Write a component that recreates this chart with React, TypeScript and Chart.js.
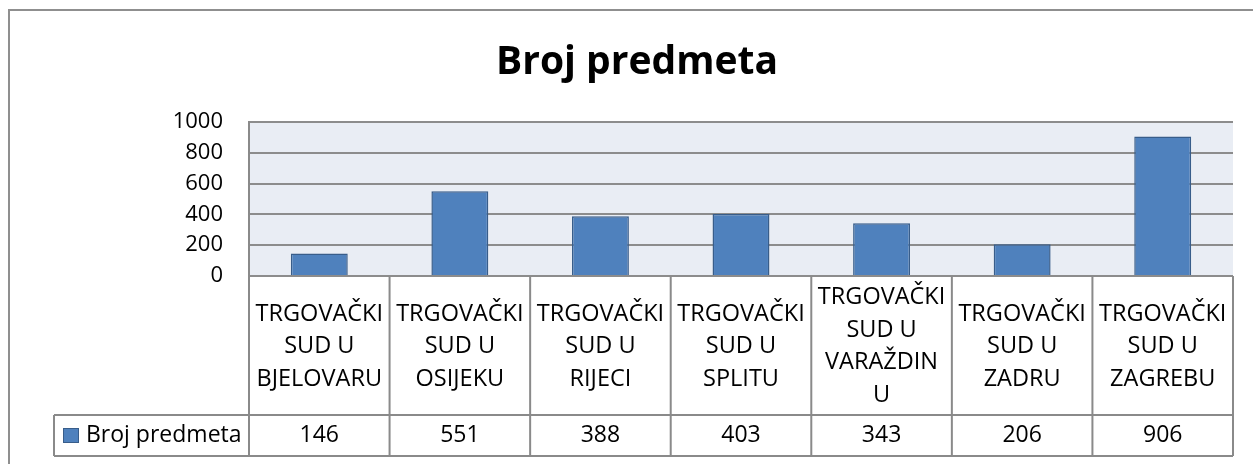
import { useEffect, useRef } from "react";
import { Chart, registerables } from "chart.js";

Chart.register(...registerables);

const chartTitle = "Broj predmeta";
const seriesName = "Broj predmeta";
const categories: string[][] = [
  ["TRGOVAČKI", "SUD U", "BJELOVARU"],
  ["TRGOVAČKI", "SUD U", "OSIJEKU"],
  ["TRGOVAČKI", "SUD U", "RIJECI"],
  ["TRGOVAČKI", "SUD U", "SPLITU"],
  ["TRGOVAČKI", "SUD U", "VARAŽDIN", "U"],
  ["TRGOVAČKI", "SUD U", "ZADRU"],
  ["TRGOVAČKI", "SUD U", "ZAGREBU"],
];
const values = [146, 551, 388, 403, 343, 206, 906];
const yMin = 0;
const yMax = 1000;
const yStep = 200;

const FONT = "'Open Sans', 'Noto Sans', sans-serif";
const LINE = "#8a8a8a";

const excelPlugin = {
  id: "excelLook",
  beforeDraw(chart: any) {
    const { ctx, chartArea: a } = chart;
    ctx.save();
    ctx.fillStyle = "#ffffff";
    ctx.fillRect(0, 0, chart.width, chart.height);
    ctx.fillStyle = "#E9EDF4";
    ctx.fillRect(a.left, a.top, a.right - a.left, a.bottom - a.top);
    ctx.restore();
  },
  afterDraw(chart: any) {
    const { ctx, chartArea: a } = chart;
    const xs = chart.scales.x;
    const n = categories.length;
    const w = (a.right - a.left) / n;
    const catTop = a.bottom;
    const catBottom = 415;
    const rowBottom = 456;
    const legendLeft = 54;
    ctx.save();
    // outer chart border
    ctx.strokeStyle = "#8f8f8f";
    ctx.lineWidth = 2;
    ctx.strokeRect(9, 10, chart.width + 40, chart.height + 40);
    // title
    ctx.fillStyle = "#000";
    ctx.font = `bold 39px ${FONT}`;
    ctx.textAlign = "center";
    ctx.textBaseline = "alphabetic";
    ctx.fillText(chartTitle, 637, 74);
    // table lines
    ctx.strokeStyle = LINE;
    ctx.lineWidth = 2;
    ctx.beginPath();
    for (let i = 0; i < n; i++) {
      const cx = xs.getPixelForValue(i);
      const l = cx - w / 2;
      ctx.moveTo(l, catTop);
      ctx.lineTo(l, rowBottom);
      if (i === n - 1) {
        ctx.moveTo(cx + w / 2, catTop);
        ctx.lineTo(cx + w / 2, rowBottom);
      }
    }
    ctx.moveTo(legendLeft, catBottom);
    ctx.lineTo(a.right, catBottom);
    ctx.moveTo(legendLeft, rowBottom);
    ctx.lineTo(a.right, rowBottom);
    ctx.moveTo(legendLeft, catBottom);
    ctx.lineTo(legendLeft, rowBottom);
    ctx.stroke();
    // category labels
    ctx.textBaseline = "middle";
    ctx.fillStyle = "#000";
    ctx.font = `23.5px ${FONT}`;
    const lh = 32.5;
    for (let i = 0; i < n; i++) {
      const cx = xs.getPixelForValue(i);
      const lines = categories[i];
      const mid = (catTop + catBottom) / 2 + 1;
      const start = mid - ((lines.length - 1) * lh) / 2;
      lines.forEach((t, j) => ctx.fillText(t, cx, start + j * lh));
    }
    // data table values
    ctx.font = `23px ${FONT}`;
    for (let i = 0; i < n; i++) {
      const cx = xs.getPixelForValue(i);
      ctx.fillText(String(values[i]), cx, (catBottom + rowBottom) / 2);
    }
    // legend cell
    ctx.fillStyle = "#4F81BD";
    ctx.fillRect(63, 428, 16, 15);
    ctx.strokeStyle = "#385D8A";
    ctx.lineWidth = 1;
    ctx.strokeRect(63.5, 428.5, 15, 14);
    ctx.fillStyle = "#000";
    ctx.textAlign = "left";
    ctx.fillText(seriesName, 86, (catBottom + rowBottom) / 2);
    ctx.restore();
  },
};

export default function App() {
  const ref = useRef<HTMLCanvasElement | null>(null);
  useEffect(() => {
    if (!ref.current) return;
    const chart = new Chart(ref.current, {
      type: "bar",
      data: {
        labels: categories.map((c) => c.join(" ")),
        datasets: [
          {
            label: seriesName,
            data: values,
            backgroundColor: "#4F81BD",
            borderColor: "#385D8A",
            borderWidth: 1.5,
            barPercentage: 0.405,
            categoryPercentage: 1,
          },
        ],
      },
      options: {
        responsive: false,
        animation: false,
        layout: { padding: { top: 122, left: 0, right: 20, bottom: 188 } },
        plugins: {
          legend: { display: false },
          title: { display: false },
          tooltip: { enabled: false },
        },
        scales: {
          x: { display: false, grid: { display: false } },
          y: {
            min: yMin,
            max: yMax,
            afterFit(scale: any) {
              scale.width = 249;
            },
            ticks: {
              stepSize: yStep,
              padding: 26,
              color: "#000",
              font: { family: FONT, size: 22 },
              callback: (v: any) => String(v),
            },
            grid: { color: "#8c8c8c", lineWidth: 2, drawTicks: false },
            border: { display: true, color: LINE, width: 2 },
          },
        },
      },
      plugins: [excelPlugin],
    });
    return () => chart.destroy();
  }, []);
  return (
    <div style={{ position: "fixed", left: 0, top: 0, width: 1253, height: 464, background: "#fff" }}>
      <canvas ref={ref} width={1253} height={464} />
    </div>
  );
}
